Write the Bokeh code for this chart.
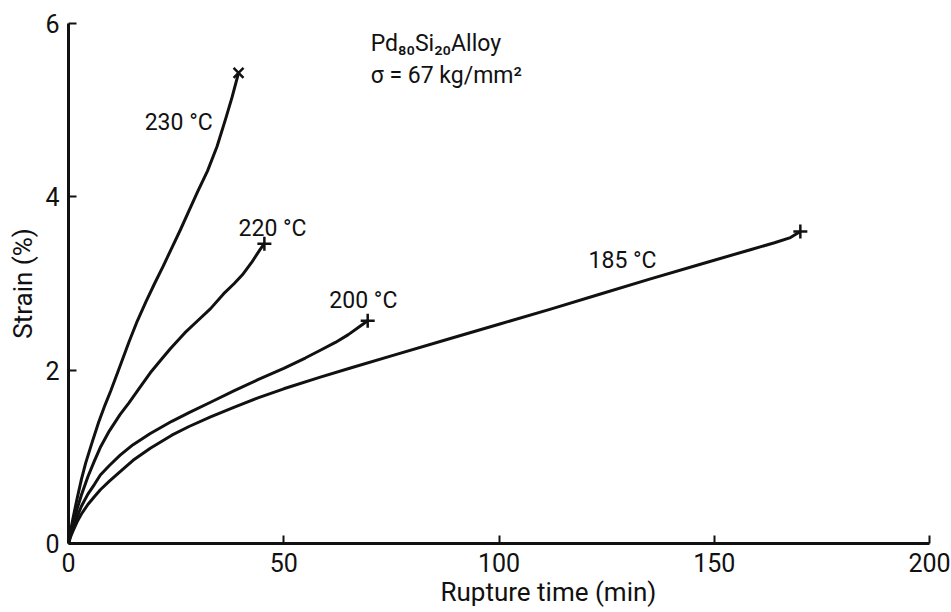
from bokeh.plotting import figure
from bokeh.models import Range1d, FixedTicker, Title
from bokeh.embed import file_html
from bokeh.resources import INLINE
from bokeh.core.properties import value

# ---- data ----
t_230 = [0, 0.5, 1, 2, 3, 4, 5.5, 7, 8.5, 9.8, 12, 14, 16, 18, 20, 22, 23.7, 26, 28, 30,
         32.3, 34.5, 36.5, 38, 39.5]
e_230 = [0, 0.15, 0.28, 0.52, 0.74, 0.93, 1.17, 1.4, 1.6, 1.76, 2.05, 2.32, 2.57, 2.79, 3.0,
         3.2, 3.38, 3.62, 3.84, 4.06, 4.3, 4.58, 4.9, 5.15, 5.43]

t_220 = [0, 0.5, 1, 2, 3, 4.5, 6, 7.5, 9.5, 12, 14, 16.3, 19, 21.5, 23.7, 27, 30, 33, 36,
         38.5, 40.4, 42.5, 44.6, 45.5]
e_220 = [0, 0.13, 0.22, 0.4, 0.56, 0.77, 0.95, 1.12, 1.3, 1.49, 1.62, 1.78, 1.97, 2.12, 2.25,
         2.43, 2.57, 2.71, 2.88, 3.0, 3.1, 3.24, 3.4, 3.46]

t_200 = [0, 0.5, 1, 2, 3, 4.5, 6, 7.4, 9.5, 12, 15, 19, 24, 28, 33, 38.4, 44, 50, 55, 58.5,
         62, 65, 67.8, 69.5]
e_200 = [0, 0.1, 0.17, 0.31, 0.43, 0.57, 0.68, 0.79, 0.9, 1.02, 1.14, 1.27, 1.41, 1.51, 1.63,
         1.76, 1.89, 2.02, 2.14, 2.23, 2.32, 2.41, 2.51, 2.57]

t_185 = [0, 0.5, 1, 2, 3, 4.5, 6, 7.4, 9.5, 12, 15, 19, 24, 28, 33, 38.4, 44, 50, 58.5, 65.5,
         75, 88.7, 100, 112, 123, 135, 147, 158.4, 164, 167.7, 170]
e_185 = [0, 0.08, 0.14, 0.25, 0.34, 0.45, 0.54, 0.62, 0.72, 0.83, 0.96, 1.1, 1.25, 1.35, 1.46,
         1.57, 1.68, 1.785, 1.92, 2.025, 2.165, 2.365, 2.53, 2.705, 2.87, 3.05, 3.225, 3.39,
         3.47, 3.53, 3.6]

series_t = [t_230, t_220, t_200, t_185]
series_e = [e_230, e_220, e_200, e_185]
end_markers = ["x", "cross", "cross", "cross"]

curve_labels = ["230 \u00b0C", "220 \u00b0C", "200 \u00b0C", "185 \u00b0C"]
curve_label_x = [25.6, 47.4, 68.5, 128.7]
curve_label_y = [4.86, 3.64, 2.80, 3.26]

x_ticks = [0, 50, 100, 150, 200]
y_ticks = [0, 2, 4, 6]

title_lines = ["Pd\u2088\u2080Si\u2082\u2080Alloy", "\u03c3 = 67 kg/mm\u00b2"]
title_x = [70.2, 70.2]
title_y = [5.77, 5.40]

x_label = "Rupture time (min)"
y_label = "Strain (%)"

FONT = "Roboto"
INK = "#111111"

p = figure(width=951, height=612, x_range=Range1d(0, 200), y_range=Range1d(0, 6),
           output_backend="svg", toolbar_location=None,
           min_border_left=68, min_border_right=22, min_border_top=23, min_border_bottom=69)
p.outline_line_color = None
p.xgrid.visible = False
p.ygrid.visible = False
p.background_fill_color = "white"
p.border_fill_color = "white"

for ax, ticks in ((p.xaxis[0], x_ticks), (p.yaxis[0], y_ticks)):
    ax.ticker = FixedTicker(ticks=ticks)
    ax.major_tick_in = 8
    ax.major_tick_out = 0
    ax.minor_tick_line_color = None
    ax.axis_line_width = 3
    ax.axis_line_color = INK
    ax.major_tick_line_width = 2
    ax.major_tick_line_color = INK
    ax.major_label_text_font = FONT
    ax.major_label_text_font_size = "25px"
    ax.major_label_text_color = INK
    ax.major_label_standoff = 9

p.yaxis.axis_label = y_label
p.yaxis.axis_label_text_font = FONT
p.yaxis.axis_label_text_font_size = "26px"
p.yaxis.axis_label_text_font_style = "normal"
p.yaxis.axis_label_text_color = INK
p.yaxis.axis_label_standoff = 4

for t, e, m in zip(series_t, series_e, end_markers):
    p.line(t, e, line_width=3, line_color=INK, line_join="round")
    p.scatter([t[-1]], [e[-1]], marker=m, size=14, line_width=2.5, line_color=INK)

p.text(x=curve_label_x, y=curve_label_y, text=curve_labels,
       text_font=value(FONT), text_font_size="23px", text_color=INK,
       text_align="center", text_baseline="middle")

p.text(x=title_x, y=title_y, text=title_lines,
       text_font=value(FONT), text_font_size="23px", text_color=INK,
       text_align="left", text_baseline="middle")

p.add_layout(Title(text=x_label, align="left", offset=372, standoff=0,
                   text_font=FONT, text_font_size="26px", text_font_style="normal",
                   text_color=INK), "below")

open("out.html", "w").write(file_html(p, INLINE))
